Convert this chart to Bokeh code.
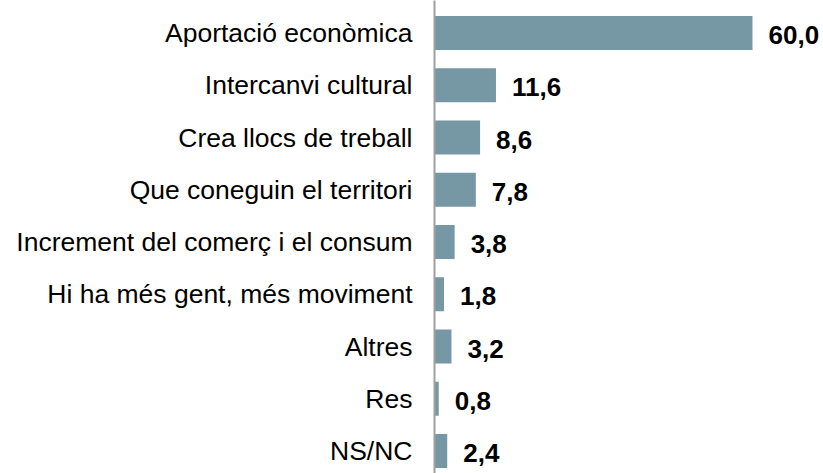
from bokeh.plotting import figure
from bokeh.models import Range1d, FixedTicker, ColumnDataSource
from bokeh.core.properties import value
from bokeh.embed import file_html
from bokeh.resources import INLINE

categories = ["Aportació econòmica", "Intercanvi cultural", "Crea llocs de treball",
              "Que coneguin el territori", "Increment del comerç i el consum",
              "Hi ha més gent, més moviment", "Altres", "Res", "NS/NC"]
values = [60.0, 11.6, 8.6, 7.8, 3.8, 1.8, 3.2, 0.8, 2.4]

idx = list(range(len(categories)))
labels = [f"{v:.1f}".replace(".", ",") for v in values]
src = ColumnDataSource(dict(y=idx, v=values, lab=labels))

px_per_unit = 5.3
left_border = 434
W, H = 823, 473
pitch = 52.25
top = -32.5 / pitch
bottom = top + H / pitch

p = figure(width=W, height=H, output_backend="svg", toolbar_location=None,
           x_range=Range1d(0, (W - left_border) / px_per_unit),
           y_range=Range1d(bottom, top),
           min_border_left=left_border, min_border_right=0,
           min_border_top=0, min_border_bottom=0)
p.outline_line_color = None
p.grid.visible = False
p.xaxis.visible = False

p.hbar(y="y", left=0, right="v", height=0.65, source=src,
       fill_color="#7698A4", line_color=None)
p.text(x="v", y="y", text="lab", source=src, x_offset=16, y_offset=2,
       text_font=value("Liberation Sans"), text_font_size="26px",
       text_font_style="bold", text_baseline="middle", text_align="left",
       text_color="#000000")

ya = p.yaxis[0]
ya.ticker = FixedTicker(ticks=idx)
ya.major_label_overrides = {i: c for i, c in zip(idx, categories)}
ya.major_tick_line_color = None
ya.minor_tick_line_color = None
ya.major_tick_out = 0
ya.major_tick_in = 0
ya.axis_line_color = "#A0A0A0"
ya.axis_line_width = 2
ya.major_label_standoff = 22
ya.major_label_text_font = "Liberation Sans"
ya.major_label_text_font_size = "26.5px"
ya.major_label_text_color = "#000000"

open("out.html", "w").write(file_html(p, INLINE))
